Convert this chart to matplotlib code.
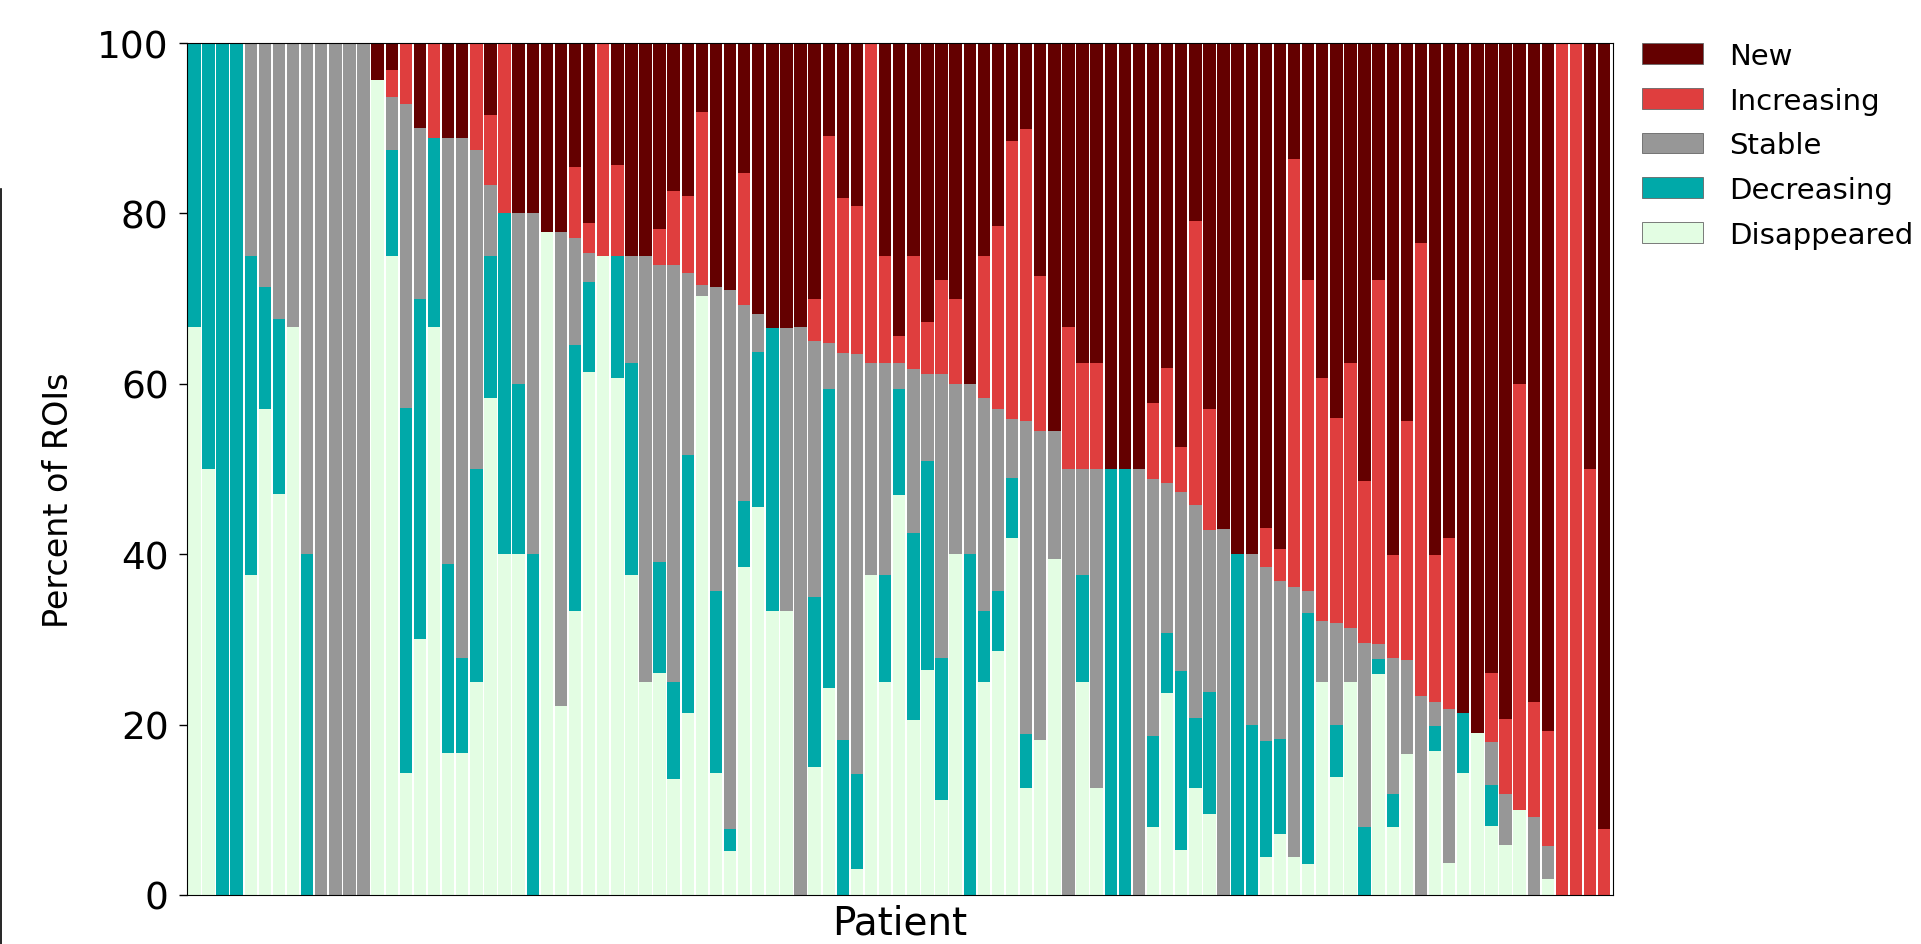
import numpy as np
import matplotlib
matplotlib.use("Agg")
import matplotlib.pyplot as plt
from matplotlib.patches import Patch
from matplotlib.lines import Line2D

# percent of ROIs per patient, stacked bottom -> top
disappeared = [66.7, 50, 0, 0, 37.5, 57.1, 47.1, 66.7, 0, 0, 0, 0, 0, 95.7, 75, 14.3, 30, 66.7, 16.7, 16.7,
               25, 58.3, 40, 40, 0, 77.8, 22.2, 33.3, 61.4, 75, 60.7, 37.5, 25, 26.1, 13.6, 21.3, 70.3, 14.3, 5.2, 38.5,
               45.5, 33.3, 33.3, 0, 15, 24.3, 0, 3.0, 37.5, 25, 46.9, 20.5, 26.4, 11.1, 40, 0, 25, 28.6, 41.9, 12.6,
               18.2, 39.4, 0, 25, 12.5, 0, 0, 0, 8.0, 23.7, 5.3, 12.5, 9.5, 0, 0, 0, 4.4, 7.2, 4.4, 3.6,
               25, 13.9, 25, 0, 25.9, 8.0, 16.6, 0, 16.9, 3.7, 14.3, 19.0, 8.1, 5.9, 10, 0, 1.9, 0, 0, 0, 0]
decreasing = [33.3, 50, 100, 100, 37.5, 14.3, 20.5, 0, 40, 0, 0, 0, 0, 0, 12.5, 42.9, 40, 22.2, 22.2, 11.1,
              25, 16.7, 40, 20, 40, 0, 0, 31.3, 10.5, 0, 14.3, 25, 0, 13.0, 11.4, 30.3, 0, 21.4, 2.6, 7.7,
              18.2, 33.3, 0, 0, 20, 35.1, 18.2, 11.2, 0, 12.5, 12.5, 22.0, 24.5, 16.7, 0, 40, 8.3, 7.1, 7.0, 6.3,
              0, 0, 0, 12.5, 0, 50, 50, 0, 10.6, 7.1, 21.0, 8.3, 14.3, 0, 40, 20, 13.7, 11.1, 0, 29.5,
              0, 6.0, 0, 8.0, 1.8, 3.8, 0, 0, 2.9, 0, 7.1, 0, 4.8, 0, 0, 0, 0, 0, 0, 0, 0]
stable = [0, 0, 0, 0, 25, 28.6, 32.4, 33.3, 60, 100, 100, 100, 100, 0, 6.2, 35.7, 20, 0, 50, 61.1,
          37.5, 8.3, 0, 20, 40, 0, 55.6, 12.5, 3.5, 0, 0, 12.5, 50, 34.8, 48.9, 21.4, 1.3, 35.7, 63.2, 23.1,
          4.5, 0, 33.3, 66.7, 30, 5.4, 45.4, 49.3, 25, 25, 3.1, 19.2, 10.3, 33.3, 20, 20, 25, 21.4, 7.0, 36.7,
          36.3, 15.1, 50, 12.5, 37.5, 0, 0, 50, 30.2, 17.6, 21.0, 25, 19.0, 42.9, 0, 20, 20.4, 18.5, 31.8, 2.6,
          7.1, 12.0, 6.3, 21.6, 1.8, 16.0, 11.0, 23.4, 2.8, 18.1, 0, 0, 5.0, 5.9, 0, 9.1, 3.8, 0, 0, 0, 0]
increasing = [0, 0, 0, 0, 0, 0, 0, 0, 0, 0, 0, 0, 0, 0, 3.1, 7.1, 0, 11.1, 0, 0,
              12.5, 8.3, 20, 0, 0, 0, 0, 8.3, 3.5, 25, 10.7, 0, 0, 4.3, 8.7, 9.1, 20.3, 0, 0, 15.4,
              0, 0, 0, 0, 5, 24.3, 18.2, 17.4, 37.5, 12.5, 3.1, 13.3, 6.1, 11.1, 10, 0, 16.7, 21.4, 32.6, 34.3,
              18.2, 0, 16.7, 12.5, 12.5, 0, 0, 0, 8.9, 13.5, 5.3, 33.3, 14.3, 0, 0, 0, 4.6, 3.8, 50.2, 36.5,
              28.6, 24.1, 31.2, 19.0, 42.7, 12.1, 28.0, 53.1, 17.3, 20.1, 0, 0, 8.2, 8.8, 50, 13.6, 13.5, 100, 100, 50, 7.7]
new = [0, 0, 0, 0, 0, 0, 0, 0, 0, 0, 0, 0, 0, 4.3, 3.2, 0, 10, 0, 11.1, 11.1,
       0, 8.4, 0, 20, 20, 22.2, 22.2, 14.6, 21.1, 0, 14.3, 25, 25, 21.8, 17.4, 17.9, 8.1, 28.6, 29.0, 15.3,
       31.8, 33.4, 33.4, 33.3, 30, 10.9, 18.2, 19.1, 0, 25, 34.4, 25.0, 32.7, 27.8, 30, 40, 25, 21.5, 11.5, 10.1,
       27.3, 45.5, 33.3, 37.5, 37.5, 50, 50, 50, 42.3, 38.1, 47.4, 20.9, 42.9, 57.1, 60, 60, 56.9, 59.4, 13.6, 27.8,
       39.3, 44.0, 37.5, 51.4, 27.8, 60.1, 44.4, 23.5, 60.1, 58.1, 78.6, 81.0, 73.9, 79.4, 40, 77.3, 80.8, 0, 0, 50, 92.3]

categories = ["Disappeared", "Decreasing", "Stable", "Increasing", "New"]
colors = ["#e3fde3", "#00a9a9", "#979797", "#df3e3e", "#640000"]

series = [disappeared, decreasing, stable, increasing, new]
x = np.arange(len(disappeared))

fig = plt.figure(figsize=(19.21, 9.45), dpi=100)
ax = fig.add_axes([0.0972, 0.0519, 0.7423, 0.9015])

bottom = np.zeros(len(x))
for vals, c, lbl in zip(series, colors, categories):
    vals = np.array(vals, dtype=float)
    ax.bar(x, vals, width=0.88, bottom=bottom, color=c, linewidth=0, label=lbl)
    bottom += vals

ax.set_xlim(-0.54, 100.6)
ax.set_ylim(0, 100)
ax.set_xticks([])
ax.set_yticks([0, 20, 40, 60, 80, 100])
ax.tick_params(axis="y", labelsize=27, length=6, width=1, pad=7)
ax.set_xlabel("Patient", fontsize=28, labelpad=6)
fig.text(58 / 1921, 1 - 500 / 945, "Percent of ROIs", rotation=90, fontsize=24,
         ha="center", va="center")

# legend, top entry first
handles = [Patch(facecolor=c, edgecolor="#666666", linewidth=0.6) for c in colors[::-1]]
fig.legend(handles, categories[::-1], loc="upper left", bbox_to_anchor=(1642 / 1921, 1 - 43 / 945),
           frameon=False, fontsize=21, handlelength=2.1, handleheight=0.72, handletextpad=0.9,
           labelspacing=0.57, borderpad=0, borderaxespad=0)

# stray edge line on the left side of the original image
fig.add_artist(Line2D([1 / 1921, 1 / 1921], [0, 1 - 190 / 945], transform=fig.transFigure,
                      color="black", linewidth=1.2))

fig.savefig("out.png", dpi=100)
